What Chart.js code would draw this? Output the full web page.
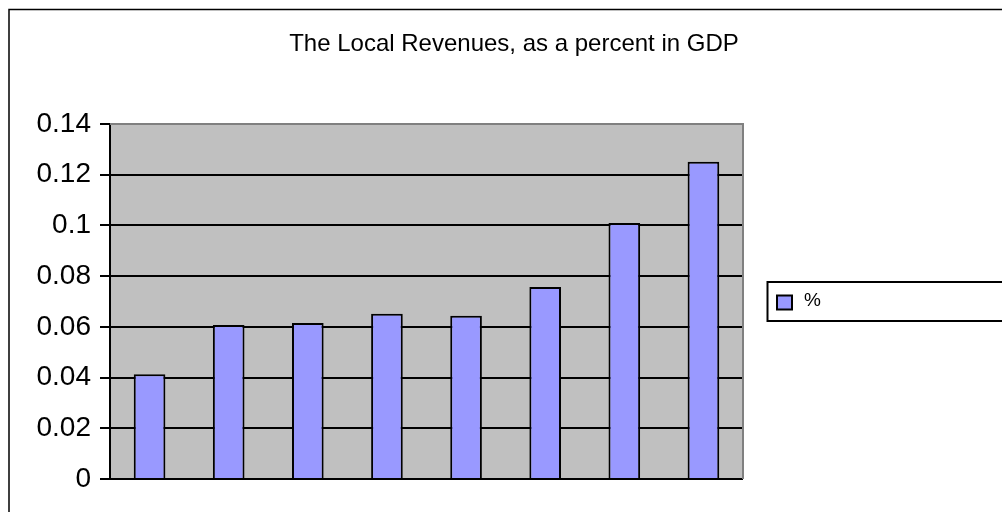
<!DOCTYPE html>
<html>
<head>
<meta charset="utf-8">
<script src="https://cdn.jsdelivr.net/npm/chart.js@4/dist/chart.umd.min.js"></script>
<style>
    html, body { margin: 0; padding: 0; background: #fff; }
    #wrap { width: 1002px; height: 512px; }
</style>
</head>
<body>
<div id="wrap"><canvas id="revenueChart" width="1002" height="512"></canvas></div>
<script>
// chart data
const chartTitle = 'The Local Revenues, as a percent in GDP';
const seriesLabel = '%';
const categories = ['1', '2', '3', '4', '5', '6', '7', '8'];
const localRevenues = [0.0413, 0.0607, 0.0615, 0.0652, 0.0644, 0.0757, 0.101, 0.1251];
const yTicks = [0, 0.02, 0.04, 0.06, 0.08, 0.1, 0.12, 0.14];

const FONT = '"Liberation Sans", Arial, sans-serif';
const BAR_FILL = '#9999FF';

// Excel-like frame: outer border, gray plot area, title and legend box
const frame = {
    id: 'frame',
    beforeDraw(chart) {
        const ctx = chart.ctx;
        const a = chart.chartArea;
        ctx.save();
        ctx.fillStyle = '#fff';
        ctx.fillRect(0, 0, chart.width, chart.height);
        ctx.fillStyle = '#C0C0C0';
        ctx.fillRect(a.left, a.top, a.right - a.left, a.bottom - a.top);
        ctx.restore();
    },
    afterDraw(chart) {
        const ctx = chart.ctx;
        const a = chart.chartArea;
        ctx.save();
        // plot area top / right edges
        ctx.strokeStyle = '#808080';
        ctx.lineWidth = 2;
        ctx.beginPath();
        ctx.moveTo(a.left, a.top);
        ctx.lineTo(a.right, a.top);
        ctx.lineTo(a.right, a.bottom);
        ctx.stroke();

        // outer chart border
        ctx.strokeStyle = '#000';
        ctx.lineWidth = 1.5;
        ctx.strokeRect(9, 9.5, chart.width + 10, chart.height + 10);

        // title
        ctx.fillStyle = '#000';
        ctx.font = '24px ' + FONT;
        ctx.textAlign = 'center';
        ctx.textBaseline = 'alphabetic';
        ctx.fillText(chartTitle, 514, 51);

        // legend box
        const midY = (a.top + a.bottom) / 2;
        ctx.lineWidth = 2;
        ctx.strokeRect(767.5, midY - 19.5, 260, 39);
        ctx.fillStyle = BAR_FILL;
        ctx.fillRect(777, midY - 6, 15, 14);
        ctx.strokeRect(777, midY - 6, 15, 14);
        ctx.fillStyle = '#000';
        ctx.font = '19px ' + FONT;
        ctx.textAlign = 'left';
        ctx.textBaseline = 'middle';
        ctx.fillText(chart.data.datasets[0].label, 804, midY - 1);
        ctx.restore();
    }
};

const ctx = document.getElementById('revenueChart').getContext('2d');
new Chart(ctx, {
    type: 'bar',
    data: {
        labels: categories,
        datasets: [{
            label: seriesLabel,
            data: localRevenues,
            backgroundColor: BAR_FILL,
            borderColor: '#000',
            borderWidth: 2,
            barPercentage: 0.4,
            categoryPercentage: 1.0
        }]
    },
    options: {
        responsive: false,
        animation: false,
        layout: {
            padding: { top: 124, left: 10, right: 259, bottom: 33 }
        },
        scales: {
            x: {
                display: false
            },
            y: {
                min: 0,
                max: 0.14,
                afterBuildTicks: (scale) => {
                    scale.ticks = yTicks.map(v => ({ value: v }));
                },
                afterFit: (scale) => {
                    scale.width = 100;
                },
                ticks: {
                    color: '#000',
                    padding: 9,
                    font: { family: FONT, size: 28 },
                    callback: (value) => String(+value.toFixed(2))
                },
                grid: {
                    color: '#000',
                    lineWidth: 2,
                    tickLength: 10,
                    tickColor: '#000'
                },
                border: {
                    color: '#000',
                    width: 2
                }
            }
        },
        plugins: {
            legend: { display: false },
            title: { display: false },
            tooltip: { enabled: false }
        }
    },
    plugins: [frame]
});
</script>
</body>
</html>
